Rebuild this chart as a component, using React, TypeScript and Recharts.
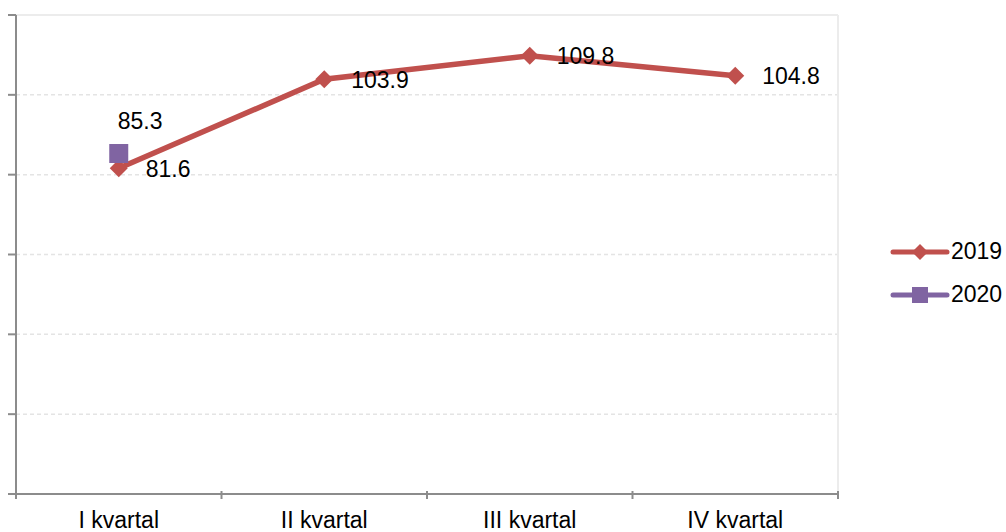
import {
  LineChart,
  Line,
  XAxis,
  YAxis,
  CartesianGrid,
  Legend,
  LabelList,
} from 'recharts'

const quarters = ['I kvartal', 'II kvartal', 'III kvartal', 'IV kvartal']
const values2019 = [81.6, 103.9, 109.8, 104.8]
const values2020: (number | null)[] = [85.3, null, null, null]
const yTicks = [0, 20, 40, 60, 80, 100, 120]

const RED = '#c0504d'
const PURPLE = '#8064a2'
const AXIS = '#8c8c8c'
const FONT = '"Liberation Sans", Arial, sans-serif'
const FS = 23

const data = quarters.map((q, i) => ({ quarter: q, y2019: values2019[i], y2020: values2020[i] }))

function Diamond(props: any) {
  const { cx, cy, fill } = props
  if (cx == null || cy == null) return null
  const r = 9
  return <path d={`M${cx},${cy - r}L${cx + r},${cy}L${cx},${cy + r}L${cx - r},${cy}Z`} fill={fill ?? RED} />
}

function Square(props: any) {
  const { cx, cy, fill } = props
  if (cx == null || cy == null) return null
  const s = 19
  return <rect x={cx - s / 2} y={cy - s / 2} width={s} height={s} fill={fill ?? PURPLE} />
}

function QuarterTick(props: any) {
  const { x, y, payload, index } = props
  const half = payload?.offset ?? 102.75
  return (
    <g>
      <line x1={x - half} y1={y - 11} x2={x - half} y2={y - 3} stroke={AXIS} strokeWidth={2} />
      {index === quarters.length - 1 && (
        <line x1={x + half} y1={y - 11} x2={x + half} y2={y - 3} stroke={AXIS} strokeWidth={2} />
      )}
      <text x={x} y={y + 10} dy="0.71em" textAnchor="middle" fontSize={FS} fontFamily={FONT} fill="#000">
        {payload.value}
      </text>
    </g>
  )
}

function sideLabel(dx: number, dy: number) {
  return (props: any) => {
    const { x, y, value } = props
    if (value == null) return null
    return (
      <text x={x + dx} y={y + dy} dy="0.36em" textAnchor="start" fontSize={FS} fontFamily={FONT} fill="#000">
        {value}
      </text>
    )
  }
}

function LegendBox() {
  const items = [
    { name: '2019', color: RED, marker: 'diamond' },
    { name: '2020', color: PURPLE, marker: 'square' },
  ]
  return (
    <div style={{ fontFamily: FONT, fontSize: FS }}>
      {items.map((it) => (
        <div key={it.name} style={{ display: 'flex', alignItems: 'center', height: 43 }}>
          <svg width={60} height={22} style={{ marginRight: 1 }}>
            <line x1={3} y1={11} x2={57} y2={11} stroke={it.color} strokeWidth={5} strokeLinecap="round" />
            {it.marker === 'diamond' ? (
              <path d="M30,3L38,11L30,19L22,11Z" fill={it.color} />
            ) : (
              <rect x={22} y={3} width={16} height={16} fill={it.color} />
            )}
          </svg>
          <span>{it.name}</span>
        </div>
      ))}
    </div>
  )
}

export default function App() {
  return (
    <div style={{ position: 'absolute', left: 0, top: 0, background: '#fff' }}>
      <LineChart
        width={1006}
        height={532}
        data={data}
        margin={{ top: 15, right: 168, bottom: 0, left: 0 }}
      >
        <CartesianGrid vertical={false} stroke="#e4e4e4" strokeDasharray="4 3" strokeWidth={1.5} />
        <CartesianGrid
          stroke="#ececec"
          strokeWidth={2}
          horizontalCoordinatesGenerator={({ offset }: any) => [offset.top]}
          verticalCoordinatesGenerator={({ offset }: any) => [offset.left + offset.width]}
        />
        <XAxis
          dataKey="quarter"
          scale="band"
          height={38}
          axisLine={{ stroke: AXIS, strokeWidth: 2 }}
          tickLine={false}
          tick={<QuarterTick />}
          interval={0}
        />
        <YAxis
          width={16}
          domain={[0, 120]}
          ticks={yTicks}
          tickFormatter={() => ''}
          tickSize={8}
          axisLine={{ stroke: AXIS, strokeWidth: 2 }}
          tickLine={{ stroke: AXIS, strokeWidth: 2 }}
        />
        <Legend
          layout="vertical"
          align="center"
          verticalAlign="middle"
          content={<LegendBox />}
          wrapperStyle={{ left: 890, top: 230, width: 116 }}
        />
        <Line
          dataKey="y2019"
          name="2019"
          stroke={RED}
          strokeWidth={5.5}
          dot={<Diamond fill={RED} />}
          activeDot={false}
          isAnimationActive={false}
        >
          <LabelList dataKey="y2019" content={sideLabel(27, 0)} />
        </Line>
        <Line
          dataKey="y2020"
          name="2020"
          stroke={PURPLE}
          strokeWidth={5.5}
          dot={<Square fill={PURPLE} />}
          activeDot={false}
          isAnimationActive={false}
        >
          <LabelList dataKey="y2020" content={sideLabel(-1, -33)} />
        </Line>
      </LineChart>
    </div>
  )
}
